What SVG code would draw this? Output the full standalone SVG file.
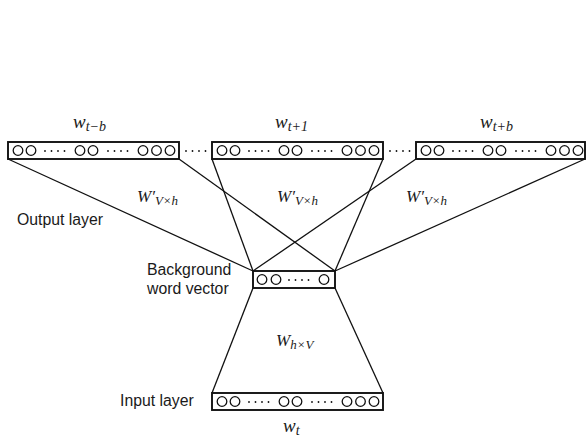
<svg xmlns="http://www.w3.org/2000/svg" xmlns:xlink="http://www.w3.org/1999/xlink" width="586" height="440" viewBox="0 0 586 440">
<style>
.box{fill:#fff;stroke:#111;stroke-width:1.9}
.c{fill:#fff;stroke:#111;stroke-width:1.3}
.dots{stroke:#111;stroke-width:1.8;stroke-linecap:round;stroke-dasharray:0 6.5;fill:none}
.ln{stroke:#111;stroke-width:1.3;fill:none}
.lbl{font-family:"Liberation Sans",Arial,sans-serif;font-size:15.8px;fill:#1a1a1a}
.m{font-family:"Liberation Serif","Times New Roman",serif;font-style:italic;font-size:19px;fill:#1a1a1a}
.mw{font-family:"Liberation Serif","Times New Roman",serif;font-style:italic;font-size:17px;fill:#1a1a1a}
.sub{font-size:14px}
.sub2{font-size:13px}
</style>
<defs>
<g id="row7">
<circle class="c" cx="10" cy="0" r="4.8"/>
<circle class="c" cx="23" cy="0" r="4.8"/>
<line class="dots" x1="37" y1="0.5" x2="63" y2="0.5"/>
<circle class="c" cx="72" cy="0" r="4.8"/>
<circle class="c" cx="85" cy="0" r="4.8"/>
<line class="dots" x1="100" y1="0.5" x2="126" y2="0.5"/>
<circle class="c" cx="135" cy="0" r="4.8"/>
<circle class="c" cx="148.5" cy="0" r="4.8"/>
<circle class="c" cx="162" cy="0" r="4.8"/>
</g>
</defs>
<rect width="586" height="440" fill="#fff"/>

<g id="connectors">
<line class="ln" x1="8" y1="159" x2="253" y2="271"/>
<line class="ln" x1="179" y1="159" x2="335" y2="271"/>
<line class="ln" x1="212" y1="159" x2="253" y2="271"/>
<line class="ln" x1="383" y1="159" x2="335" y2="271"/>
<line class="ln" x1="416" y1="159" x2="253" y2="271"/>
<line class="ln" x1="585" y1="159" x2="335" y2="271"/>
<line class="ln" x1="253" y1="288" x2="212" y2="393"/>
<line class="ln" x1="335" y1="288" x2="383" y2="393"/>
<line class="dots" x1="186" y1="151" x2="212" y2="151"/>
<line class="dots" x1="390" y1="151" x2="416" y2="151"/>
</g>

<g id="out-tb">
<rect class="box" x="8" y="142" width="171" height="17"/>
<use xlink:href="#row7" x="8" y="150.5"/>
<text class="m" x="73" y="128">w<tspan class="sub" dy="3">t−b</tspan></text>
</g>

<g id="out-t1">
<rect class="box" x="212" y="142" width="171" height="17"/>
<use xlink:href="#row7" x="212" y="150.5"/>
<text class="m" x="275" y="128">w<tspan class="sub" dy="3">t+1</tspan></text>
</g>

<g id="out-tp">
<rect class="box" x="416" y="142" width="169" height="17"/>
<use xlink:href="#row7" x="416" y="150.5"/>
<text class="m" x="480" y="128">w<tspan class="sub" dy="3">t+b</tspan></text>
</g>

<g id="hidden">
<rect class="box" x="253" y="271" width="82" height="17"/>
<circle class="c" cx="262" cy="279.5" r="4.8"/>
<circle class="c" cx="276" cy="279.5" r="4.8"/>
<line class="dots" x1="289" y1="280" x2="315" y2="280"/>
<circle class="c" cx="324" cy="279.5" r="4.8"/>
</g>

<g id="input">
<rect class="box" x="212" y="393" width="171" height="17"/>
<use xlink:href="#row7" x="212" y="401.5"/>
<text class="m" x="283" y="432">w<tspan class="sub" dy="3">t</tspan></text>
</g>

<g id="labels">
<text class="mw" x="137" y="202">W′<tspan class="sub2" dy="3">V×h</tspan></text>
<text class="mw" x="277" y="202">W′<tspan class="sub2" dy="3">V×h</tspan></text>
<text class="mw" x="406" y="202">W′<tspan class="sub2" dy="3">V×h</tspan></text>
<text class="mw" x="276" y="346">W<tspan class="sub2" dy="3">h×V</tspan></text>
<text class="lbl" x="17" y="225">Output layer</text>
<text class="lbl" x="147" y="275">Background</text>
<text class="lbl" x="147" y="294">word vector</text>
<text class="lbl" x="120" y="406">Input layer</text>
</g>
</svg>
